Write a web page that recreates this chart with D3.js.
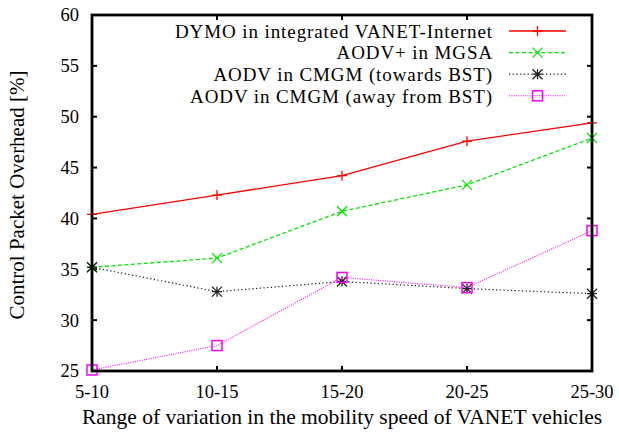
<!DOCTYPE html>
<html>
<head>
<meta charset="utf-8">
<script src="https://cdn.jsdelivr.net/npm/d3@7"></script>
<style>
  html, body { margin: 0; padding: 0; background: #fff; }
</style>
</head>
<body>
<svg id="chart" width="619" height="439"></svg>
<script>
// Speed ranges on the x axis
const categories = ["5-10", "10-15", "15-20", "20-25", "25-30"];
// Control packet overhead (%) per protocol
const dymoVanetInternet = [40.4, 42.3, 44.2, 47.6, 49.4];
const aodvPlusMgsa      = [35.2, 36.1, 40.7, 43.3, 47.9];
const aodvCmgmTowards   = [35.2, 32.8, 33.8, 33.1, 32.6];
const aodvCmgmAway      = [25.1, 27.5, 34.2, 33.2, 38.8];
const yTicks = [25, 30, 35, 40, 45, 50, 55, 60];

const series = [
  { name: "DYMO in integrated VANET-Internet", values: dymoVanetInternet, color: "#ff0000", dash: null, width: 1.3, marker: "plus" },
  { name: "AODV+ in MGSA", values: aodvPlusMgsa, color: "#00e600", dash: "4,2.5", width: 1.3, marker: "cross" },
  { name: "AODV in CMGM (towards BST)", values: aodvCmgmTowards, color: "#222222", dash: "1.3,2.4", width: 1.2, marker: "star" },
  { name: "AODV in CMGM (away from BST)", values: aodvCmgmAway, color: "#ff00ff", dash: "1,1.3", width: 1.1, marker: "box" }
];

const svg = d3.select("#chart")
  .attr("font-family", "'Liberation Serif', 'Times New Roman', Times, 'DejaVu Serif', serif");
const plotL = 92, plotR = 592, plotT = 15, plotB = 371;

const x = d3.scalePoint().domain(categories).range([plotL, plotR]);
const y = d3.scaleLinear().domain([25, 60]).range([plotB, plotT]);

const tickFont = 18.5;
const labelFont = 21.5;
const legendFont = 19;

// inward ticks on all four sides
const tickLen = 5;
const axisG = svg.append("g").attr("stroke", "#000").attr("stroke-width", 2);
yTicks.forEach(v => {
  if (v === 25 || v === 60) return;
  axisG.append("line").attr("x1", plotL).attr("x2", plotL + tickLen).attr("y1", y(v)).attr("y2", y(v));
  axisG.append("line").attr("x1", plotR).attr("x2", plotR - tickLen).attr("y1", y(v)).attr("y2", y(v));
});
categories.forEach((c, i) => {
  if (i === 0 || i === categories.length - 1) return;
  axisG.append("line").attr("x1", x(c)).attr("x2", x(c)).attr("y1", plotB).attr("y2", plotB - tickLen);
  axisG.append("line").attr("x1", x(c)).attr("x2", x(c)).attr("y1", plotT).attr("y2", plotT + tickLen);
});

// y tick labels
svg.append("g").selectAll("text").data(yTicks).join("text")
  .attr("x", plotL - 13).attr("y", d => y(d)).attr("dy", "0.35em")
  .attr("text-anchor", "end").attr("font-size", tickFont).text(d => d);

// x tick labels
svg.append("g").selectAll("text").data(categories).join("text")
  .attr("x", d => x(d)).attr("y", plotB + 27)
  .attr("text-anchor", "middle").attr("font-size", tickFont).text(d => d);

// axis titles
svg.append("text").attr("x", 342).attr("y", 424)
  .attr("text-anchor", "middle").attr("font-size", labelFont)
  .text("Range of variation in the mobility speed of VANET vehicles");
svg.append("text").attr("transform", `translate(24,195) rotate(-90)`)
  .attr("text-anchor", "middle").attr("font-size", 21)
  .text("Control Packet Overhead [%]");

// marker shapes
function drawMarker(g, type, cx, cy, color) {
  const s = 5;
  const m = g.append("g").attr("stroke", color).attr("fill", "none").attr("stroke-width", 1.3);
  if (type === "plus") {
    m.append("path").attr("d", `M${cx - s},${cy}H${cx + s}M${cx},${cy - s}V${cy + s}`);
  } else if (type === "cross") {
    m.append("path").attr("d", `M${cx - s},${cy - s}L${cx + s},${cy + s}M${cx - s},${cy + s}L${cx + s},${cy - s}`);
  } else if (type === "star") {
    m.append("path").attr("d", `M${cx - s},${cy}H${cx + s}M${cx},${cy - s}V${cy + s}M${cx - s},${cy - s}L${cx + s},${cy + s}M${cx - s},${cy + s}L${cx + s},${cy - s}`);
  } else if (type === "box") {
    m.attr("stroke-width", 1.5);
    m.append("rect").attr("x", cx - s).attr("y", cy - s).attr("width", 2 * s).attr("height", 2 * s);
  }
}

// series lines and markers
const line = d3.line().x((d, i) => x(categories[i])).y(d => y(d));
series.forEach(s => {
  svg.append("path").datum(s.values).attr("d", line)
    .attr("fill", "none").attr("stroke", s.color).attr("stroke-width", s.width)
    .attr("stroke-dasharray", s.dash);
  const mg = svg.append("g");
  s.values.forEach((v, i) => drawMarker(mg, s.marker, x(categories[i]), y(v), s.color));
});

// legend
const legY0 = 31, legStep = 21.6;
series.forEach((s, i) => {
  const ly = legY0 + i * legStep;
  svg.append("text").attr("x", 493).attr("y", ly).attr("dy", "0.36em")
    .attr("text-anchor", "end").attr("font-size", legendFont)
    .attr("letter-spacing", 0.9).text(s.name);
  svg.append("line").attr("x1", 509).attr("x2", 566).attr("y1", ly).attr("y2", ly)
    .attr("stroke", s.color).attr("stroke-width", s.width).attr("stroke-dasharray", s.dash);
  drawMarker(svg, s.marker, 537.5, ly, s.color);
});

// frame
svg.append("rect").attr("x", plotL).attr("y", plotT).attr("width", plotR - plotL).attr("height", plotB - plotT)
  .attr("fill", "none").attr("stroke", "#000").attr("stroke-width", 2.8);
</script>
</body>
</html>
